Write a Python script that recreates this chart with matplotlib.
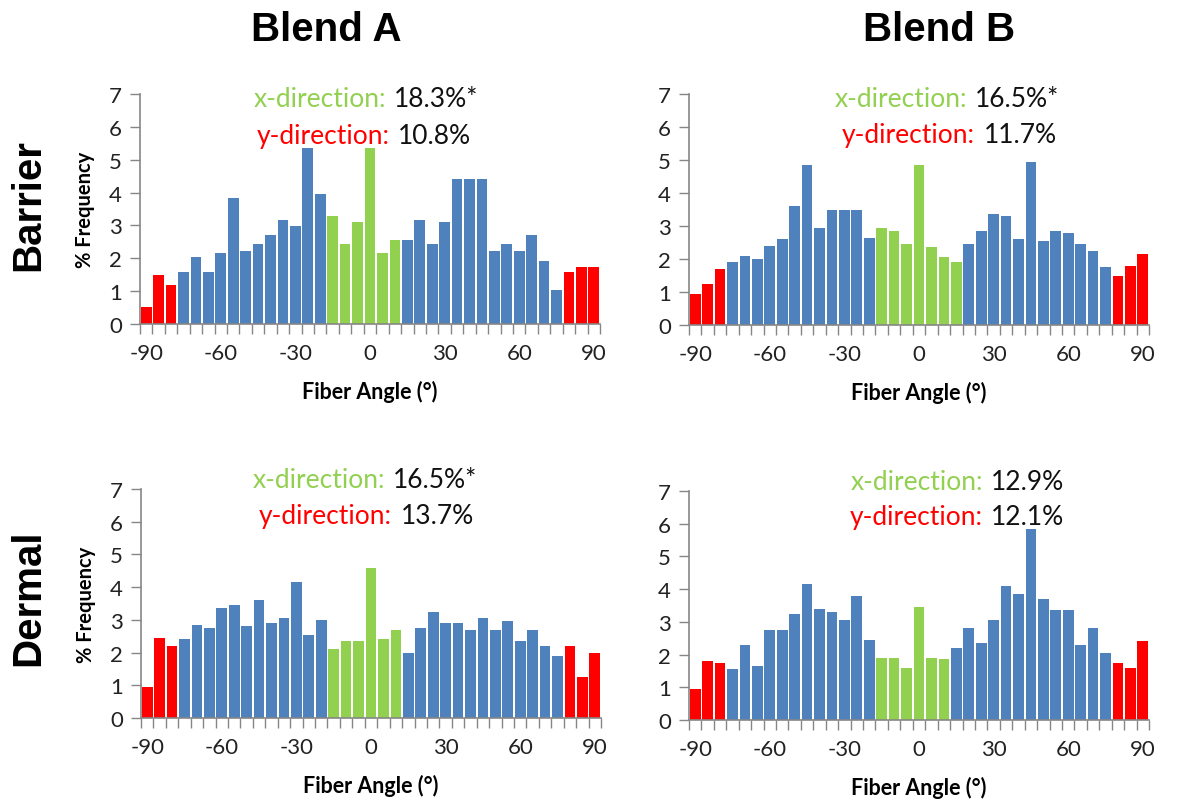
import numpy as np
import matplotlib
matplotlib.use("Agg")
import matplotlib.pyplot as plt

plt.rcParams["axes.unicode_minus"] = False

# fiber angle bins, -90..90 in 5 degree steps
angles = np.arange(-90, 95, 5)

barrier_a = [0.53, 1.48, 1.19, 1.59, 2.05, 1.59, 2.16, 3.85, 2.21, 2.44, 2.72, 3.16, 2.99,
             5.37, 3.96, 3.28, 2.43, 3.11, 5.37, 2.16, 2.55, 2.55, 3.16, 2.44, 3.11, 4.42,
             4.42, 4.42, 2.21, 2.44, 2.21, 2.72, 1.93, 1.03, 1.59, 1.75, 1.75]
barrier_b = [0.95, 1.25, 1.7, 1.9, 2.1, 2.0, 2.4, 2.6, 3.6, 4.85, 2.95, 3.5, 3.5,
             3.5, 2.65, 2.95, 2.85, 2.45, 4.85, 2.35, 2.05, 1.9, 2.45, 2.85, 3.35, 3.3,
             2.6, 4.95, 2.55, 2.85, 2.8, 2.45, 2.25, 1.75, 1.5, 1.8, 2.15]
dermal_a = [0.95, 2.45, 2.2, 2.4, 2.85, 2.75, 3.35, 3.45, 2.8, 3.6, 2.9, 3.05, 4.15,
            2.55, 3.0, 2.1, 2.35, 2.35, 4.6, 2.4, 2.7, 2.0, 2.75, 3.25, 2.9, 2.9,
            2.7, 3.05, 2.7, 2.95, 2.35, 2.7, 2.2, 1.9, 2.2, 1.25, 2.0]
dermal_b = [0.95, 1.8, 1.75, 1.55, 2.3, 1.65, 2.75, 2.75, 3.25, 4.15, 3.4, 3.3, 3.05,
            3.8, 2.45, 1.9, 1.9, 1.6, 3.45, 1.9, 1.85, 2.2, 2.8, 2.35, 3.05, 4.1,
            3.85, 5.85, 3.7, 3.35, 3.35, 2.3, 2.8, 2.05, 1.75, 1.6, 2.4]

# bins counted as x-direction (green) per panel; y-direction = outer 3 bins each side
x_bins = [(-15, 10), (-15, 15), (-15, 10), (-15, 10)]
x_pct = ["18.3%*", "16.5%*", "16.5%*", "12.9%"]
y_pct = ["10.8%", "11.7%", "13.7%", "12.1%"]

col_titles = ["Blend A", "Blend B"]
row_titles = ["Barrier", "Dermal"]

BLUE = "#4F81BD"
GREEN = "#92D050"
RED = "#FF0000"
AXC = "#868686"

W, H = 1187, 804
fig = plt.figure(figsize=(W / 100, H / 100), dpi=100)

# panel boxes in pixels: left, top(y=7), bottom(y=0)
boxes = [(140, 95, 325), (689, 95, 326), (141, 490, 719), (689, 492, 721)]
panel_w = 460
# annotation anchor (axes x fraction of the colon, data y) per line
ann = [((0.535, 6.85), (0.543, 5.75)),
       ((0.604, 6.87), (0.622, 5.78)),
       ((0.530, 7.3), (0.546, 6.18)),
       ((0.639, 7.3), (0.639, 6.22))]

data = [barrier_a, barrier_b, dermal_a, dermal_b]
tick_font = "Lato"

for i, vals in enumerate(data):
    left, top, bot = boxes[i]
    ax = fig.add_axes([left / W, 1 - bot / H, panel_w / W, (bot - top) / H])
    lo, hi = x_bins[i]
    colors = []
    for a in angles:
        if abs(a) >= 80:
            colors.append(RED)
        elif lo <= a <= hi:
            colors.append(GREEN)
        else:
            colors.append(BLUE)
    ax.bar(angles, vals, width=4.3, color=colors)
    ax.set_xlim(-92.5, 92.5)
    ax.set_ylim(0, 7)
    ax.set_yticks(range(8))
    ax.set_xticks(range(-90, 91, 30))
    ax.set_xticks(np.arange(-92.5, 93, 5), minor=True)
    for s in ["top", "right"]:
        ax.spines[s].set_visible(False)
    for s in ["left", "bottom"]:
        ax.spines[s].set_color(AXC)
        ax.spines[s].set_linewidth(1.2)
    ax.tick_params(axis="x", which="major", length=0, pad=14, labelsize=16)
    ax.tick_params(axis="x", which="minor", length=7, color=AXC, width=1)
    ax.tick_params(axis="y", length=7, color=AXC, width=1, labelsize=16, pad=6)
    for lab in ax.get_xticklabels() + ax.get_yticklabels():
        lab.set_fontfamily(tick_font)
        lab.set_color("#222222")
    ax.set_xlabel("Fiber Angle (°)", fontsize=15.5, fontweight="bold",
                  family="Lato", labelpad=12)
    if i % 2 == 0:
        ax.set_ylabel("% Frequency", fontsize=14.5, fontweight="bold", family="Lato")
        ax.yaxis.set_label_coords(-0.098, 0.5)

    (x1, y1), (x2, y2) = ann[i]
    trans = ax.get_yaxis_transform()
    for (xf, yd), lab, col, val in [((x1, y1), "x-direction:", GREEN, x_pct[i]),
                                    ((x2, y2), "y-direction:", RED, y_pct[i])]:
        ax.text(xf, yd, lab, transform=trans, ha="right", va="center",
                color=col, fontsize=19, family="Lato", clip_on=False)
        ax.text(xf + 0.018, yd, val, transform=trans, ha="left", va="center",
                color="#111111", fontsize=19, family="Lato", clip_on=False)

fig.text(326 / W, 1 - 30 / H, col_titles[0], ha="center", va="center",
         fontsize=29, fontweight="bold", family="Liberation Sans")
fig.text(939 / W, 1 - 30 / H, col_titles[1], ha="center", va="center",
         fontsize=29, fontweight="bold", family="Liberation Sans")
fig.text(28 / W, 1 - 205 / H, row_titles[0], ha="center", va="center",
         rotation=90, fontsize=29, fontweight="bold", family="Liberation Sans")
fig.text(28 / W, 1 - 598 / H, row_titles[1], ha="center", va="center",
         rotation=90, fontsize=29, fontweight="bold", family="Liberation Sans")

fig.savefig("out.png", dpi=100, facecolor="white")
